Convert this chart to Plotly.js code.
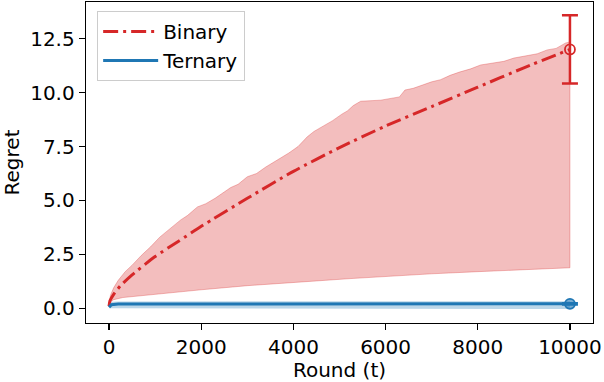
<!DOCTYPE html>
<html>
<head>
<meta charset="utf-8">
<script src="https://cdn.plot.ly/plotly-3.0.1.min.js"></script>
<style>html,body{margin:0;padding:0;background:#fff;}#chart{width:604px;height:382px;}</style>
</head>
<body>
<div id="chart"></div>
<script>
// Binary mean regret
const binaryX = [0, 20, 100, 250, 500, 1000, 1500, 2000, 3000, 4000, 5000, 6000, 7000, 8000, 9000, 10000];
const binaryMean = [0.1, 0.35, 0.65, 1.05, 1.55, 2.4, 3.1, 3.8, 5.1, 6.35, 7.45, 8.45, 9.35, 10.25, 11.15, 12.0];
// Binary band upper edge
const binaryUpperX = [0, 30, 100, 200, 350, 500, 700, 900, 1100, 1300, 1450, 1555, 1700, 1917, 2100, 2300, 2640, 2800, 3000, 3200, 3400, 3600, 3715, 3900, 4100, 4300, 4446, 4650, 4850, 5050, 5170, 5300, 5459, 5892, 6300, 6420, 6600, 6800, 7000, 7193, 7400, 7600, 7845, 8060, 8300, 8567, 8780, 9000, 9291, 9507, 9700, 9905, 10000];
const binaryUpper = [0.15, 0.6, 0.95, 1.3, 1.7, 2.0, 2.45, 2.85, 3.3, 3.65, 3.9, 4.1, 4.3, 4.7, 4.85, 5.1, 5.6, 5.75, 6.1, 6.25, 6.55, 6.8, 6.95, 7.2, 7.5, 7.95, 8.2, 8.45, 8.7, 9.0, 9.15, 9.4, 9.6, 9.65, 9.8, 10.12, 10.2, 10.35, 10.5, 10.6, 10.8, 10.95, 11.1, 11.28, 11.35, 11.45, 11.6, 11.7, 11.8, 11.98, 12.05, 12.3, 12.35];
// Binary band lower edge
const binaryLowerX = [0, 30, 100, 300, 600, 1000, 1500, 2000, 3000, 3723, 4500, 5250, 6000, 7000, 8000, 9000, 10000];
const binaryLower = [0.12, 0.3, 0.4, 0.5, 0.58, 0.66, 0.76, 0.86, 1.05, 1.17, 1.27, 1.38, 1.49, 1.6, 1.7, 1.8, 1.88];
// Ternary
const ternaryX = [0, 50, 200, 10000];
const ternaryMean = [0.05, 0.17, 0.2, 0.21];
const ternaryLower = [0.0, -0.02, -0.03, -0.03];
const ternaryUpper = [0.1, 0.3, 0.32, 0.33];
// Final-round error bars
const finalRound = [10000];
const binaryFinal = [12.0];
const binaryFinalErr = [1.58];
const ternaryFinal = [0.21];
const ternaryFinalErr = [0.03];

const xTicks = [0, 2000, 4000, 6000, 8000, 10000];
const yTicks = [0, 2.5, 5, 7.5, 10, 12.5];
const yTickText = ['0.0', '2.5', '5.0', '7.5', '10.0', '12.5'];

const RED = '#d62728', BLUE = '#1f77b4';

const binBandX = binaryUpperX.concat(binaryLowerX.slice().reverse());
const binBandY = binaryUpper.concat(binaryLower.slice().reverse());
const terBandX = ternaryX.concat(ternaryX.slice().reverse());
const terBandY = ternaryUpper.concat(ternaryLower.slice().reverse());

const traces = [
  {x: binBandX, y: binBandY, type: 'scatter', mode: 'lines', fill: 'toself',
   fillcolor: 'rgba(214,39,40,0.3)', line: {color: 'rgba(214,39,40,0.3)', width: 1}, showlegend: false, hoverinfo: 'skip'},
  {x: terBandX, y: terBandY, type: 'scatter', mode: 'lines', fill: 'toself',
   fillcolor: 'rgba(31,119,180,0.3)', line: {width: 0}, showlegend: false, hoverinfo: 'skip'},
  {x: binaryX, y: binaryMean, type: 'scatter', mode: 'lines', name: 'Binary',
   line: {color: RED, width: 3, dash: '15px,5px,3px,5px', shape: 'spline', smoothing: 0.6}},
  {x: ternaryX, y: ternaryMean, type: 'scatter', mode: 'lines', name: 'Ternary',
   line: {color: BLUE, width: 3}},
  {x: finalRound, y: binaryFinal, type: 'scatter', mode: 'markers', showlegend: false,
   marker: {symbol: 'circle-open', size: 10, color: RED, line: {width: 1.8, color: RED}},
   error_y: {type: 'data', array: binaryFinalErr, visible: true, color: RED, thickness: 2.5, width: 8}},
  {x: finalRound, y: ternaryFinal, type: 'scatter', mode: 'markers', showlegend: false,
   marker: {symbol: 'circle', size: 10, color: 'rgba(31,119,180,0.6)', line: {width: 1.8, color: BLUE}},
   error_y: {type: 'data', array: ternaryFinalErr, visible: true, color: BLUE, thickness: 2.5, width: 8}}
];

const font = {family: 'DejaVu Sans', size: 20, color: '#000'};
const layout = {
  width: 604, height: 382,
  margin: {l: 86, r: 11, t: 2, b: 59},
  paper_bgcolor: '#fff', plot_bgcolor: '#fff',
  font: font,
  showlegend: true,
  legend: {x: 0.022, y: 0.972, xanchor: 'left', yanchor: 'top', bgcolor: 'rgba(255,255,255,0.8)',
           bordercolor: '#cccccc', borderwidth: 1, font: font, tracegroupgap: 0, itemwidth: 55},
  xaxis: {range: [-500, 10500], tickmode: 'array', tickvals: xTicks, ticktext: xTicks.map(String),
          showgrid: false, zeroline: false, showline: true, mirror: true, linecolor: '#000', linewidth: 1.3,
          ticks: 'outside', ticklen: 6, tickwidth: 1.3, tickcolor: '#000',
          title: {text: 'Round (t)', font: font, standoff: 4}},
  yaxis: {range: [-0.68, 14.2], tickmode: 'array', tickvals: yTicks, ticktext: yTickText,
          showgrid: false, zeroline: false, showline: true, mirror: true, linecolor: '#000', linewidth: 1.3,
          ticks: 'outside', ticklen: 6, tickwidth: 1.3, tickcolor: '#000',
          title: {text: 'Regret', font: font, standoff: 6}}
};
Plotly.newPlot('chart', traces, layout, {displayModeBar: false, staticPlot: true});
</script>
</body>
</html>
